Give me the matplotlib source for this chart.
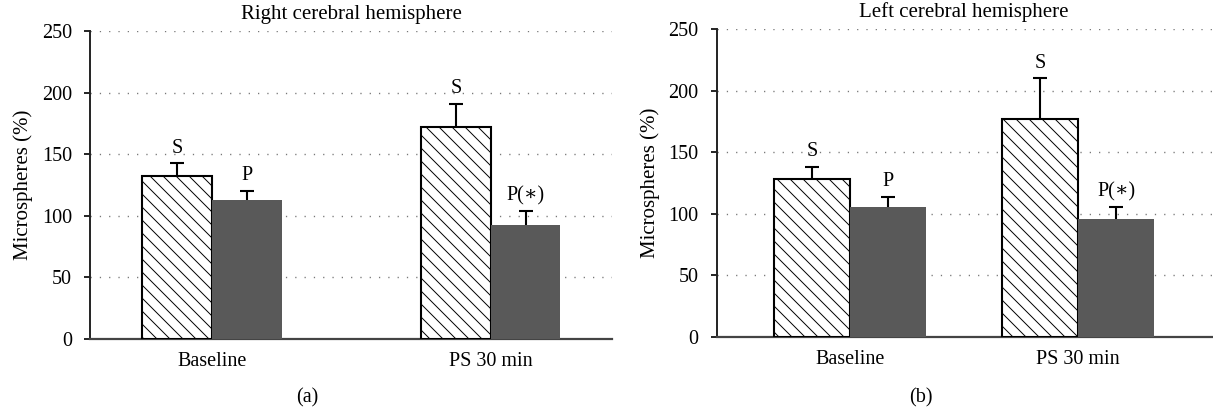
import numpy as np
import matplotlib
matplotlib.use("Agg")
import matplotlib.pyplot as plt

# rendered at 78 dpi so the hatch spacing comes out like the original;
# K converts sizes that were tuned at 100 dpi
DPI = 78
K = 100 / DPI

plt.rcParams['font.family'] = ['Liberation Serif', 'DejaVu Serif']
plt.rcParams['hatch.linewidth'] = 0.9

# Data
groups = ["Baseline", "PS 30 min"]
panel_titles = ["Right cerebral hemisphere", "Left cerebral hemisphere"]
panel_tags = ["(a)", "(b)"]

right_s = [132.5, 172.0]
right_s_err = [10.0, 19.0]
right_p = [112.5, 92.5]
right_p_err = [8.0, 11.5]

left_s = [128.0, 177.0]
left_s_err = [10.0, 33.0]
left_p = [105.5, 95.5]
left_p_err = [8.5, 10.0]

s_labels = ["S", "S"]
p_labels = ["P", "P(\u2217)"]

yticks = [0, 50, 100, 150, 200, 250]

DARK = "#595959"


def draw_errors(ax, x, vals, errs):
    eb = ax.errorbar(x, vals, yerr=[np.zeros(len(vals)), errs], fmt="none",
                     ecolor="black", elinewidth=1.5 * K, capsize=5 * K,
                     capthick=1.5 * K, zorder=4)
    # hide the caps that sit on the bar tops
    for cl in eb.lines[1]:
        if np.allclose(cl.get_ydata(), vals):
            cl.set_visible(False)


def draw_panel(ax, s_vals, s_err, p_vals, p_err, title, width, xlim):
    x = np.arange(len(groups))
    xs = x - width / 2
    xp = x + width / 2

    ax.bar(xs, s_vals, width, color="white", edgecolor="black", linewidth=1.5 * K,
           hatch="\\\\", zorder=3)
    ax.bar(xp, p_vals, width, color=DARK, edgecolor=DARK, linewidth=0, zorder=3)
    draw_errors(ax, xs, s_vals, s_err)
    draw_errors(ax, xp, p_vals, p_err)

    for xi, v, e, lab in zip(xs, s_vals, s_err, s_labels):
        ax.annotate(lab, (xi, v + e), xytext=(0, 4 * K), textcoords="offset points",
                    ha="center", va="bottom", fontsize=14.5 * K)
    for xi, v, e, lab in zip(xp, p_vals, p_err, p_labels):
        ax.annotate(lab, (xi, v + e), xytext=(0, 4 * K), textcoords="offset points",
                    ha="center", va="bottom", fontsize=14.5 * K)

    ax.set_ylim(0, 250)
    ax.set_xlim(*xlim)
    ax.set_yticks(yticks)
    ax.set_xticks(x)
    ax.set_xticklabels(groups)
    ax.tick_params(axis="x", length=0, pad=9.5 * K, labelsize=14.5 * K)
    ax.tick_params(axis="y", length=4 * K, width=1.2 * K, direction="out",
                   pad=9 * K, labelsize=14.5 * K)
    ax.yaxis.grid(True, color="#777777", linewidth=1.0 * K, linestyle=(0, (0.9, 5.8)))
    ax.set_axisbelow(True)

    for side in ["top", "right"]:
        ax.spines[side].set_visible(False)
    ax.spines["left"].set_color("#222222")
    ax.spines["left"].set_linewidth(1.4 * K)
    ax.spines["bottom"].set_color("#444444")
    ax.spines["bottom"].set_linewidth(1.6 * K)

    ax.set_ylabel("Microspheres (%)", fontsize=15 * K, labelpad=6 * K)
    ax.set_title(title, fontsize=15 * K, pad=8.5 * K)


fig = plt.figure(figsize=(1213 / DPI, 413 / DPI), dpi=DPI)
ax_a = fig.add_axes([0.0742, 0.1792, 0.4303, 0.7458])
ax_b = fig.add_axes([0.5908, 0.1840, 0.4082, 0.7458])

draw_panel(ax_a, right_s, right_s_err, right_p, right_p_err, panel_titles[0],
           0.25, (-0.4375, 1.435))
draw_panel(ax_b, left_s, left_s_err, left_p, left_p_err, panel_titles[1],
           0.333, (-0.585, 1.586))

fig.text(307 / 1213, 1 - 398 / 413, panel_tags[0], ha="center", va="center",
         fontsize=14.5 * K)
fig.text(921 / 1213, 1 - 398 / 413, panel_tags[1], ha="center", va="center",
         fontsize=14.5 * K)

fig.savefig("out.png", dpi=DPI)
